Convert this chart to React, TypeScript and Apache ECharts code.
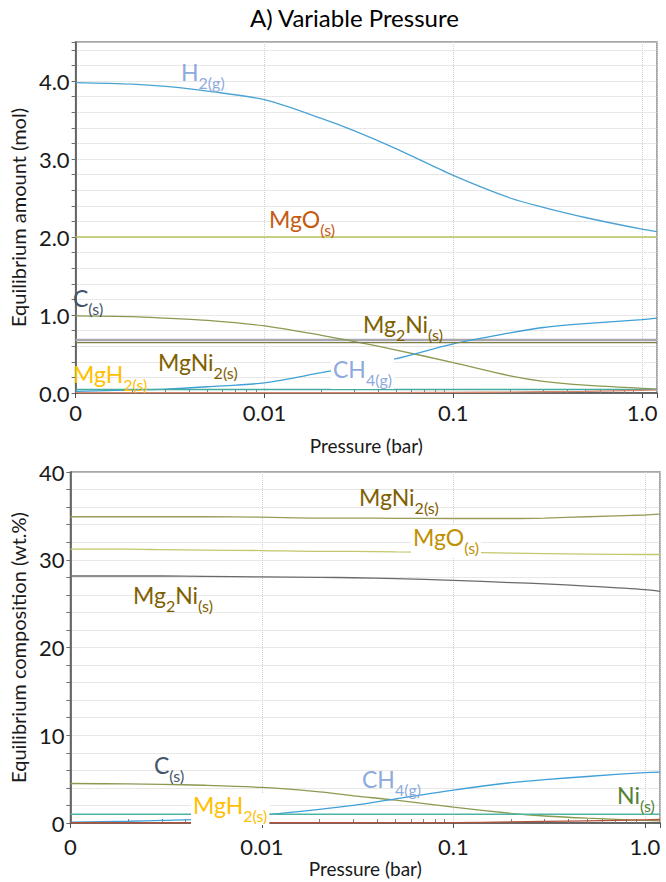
import React, { useEffect, useRef } from 'react';
import * as echarts from 'echarts';

// ---------- data ----------
const pressureBar = [0.001, 0.002, 0.003, 0.005, 0.01, 0.02, 0.03, 0.05, 0.1, 0.2, 0.3, 0.5, 1.0, 1.2];
const xTickValues = [0.001, 0.01, 0.1, 1];
const xTickLabels = ['0', '0.01', '0.1', '1.0'];
const xMinorTicks = [
  0.002, 0.003, 0.004, 0.005, 0.006, 0.007, 0.008, 0.009,
  0.02, 0.03, 0.04, 0.05, 0.06, 0.07, 0.08, 0.09,
  0.2, 0.3, 0.4, 0.5, 0.6, 0.7, 0.8, 0.9,
];

// A) equilibrium amount (mol)
const amountH2 = [3.98, 3.96, 3.93, 3.87, 3.76, 3.52, 3.36, 3.13, 2.79, 2.5, 2.38, 2.25, 2.1, 2.07];
const amountMgO = [2.0, 2.0, 2.0, 2.0, 2.0, 2.0, 2.0, 2.0, 2.0, 2.0, 2.0, 2.0, 2.0, 2.0];
const amountC = [0.99, 0.98, 0.96, 0.93, 0.86, 0.74, 0.66, 0.55, 0.39, 0.22, 0.15, 0.1, 0.06, 0.05];
const amountMg2Ni = [0.68, 0.68, 0.68, 0.68, 0.68, 0.68, 0.68, 0.68, 0.68, 0.68, 0.68, 0.68, 0.68, 0.68];
const amountMgNi2 = [0.645, 0.645, 0.645, 0.645, 0.645, 0.645, 0.645, 0.645, 0.645, 0.645, 0.645, 0.645, 0.645, 0.645];
const amountCH4 = [0.02, 0.04, 0.05, 0.08, 0.13, 0.26, 0.34, 0.44, 0.63, 0.77, 0.84, 0.89, 0.94, 0.96];
const amountMgH2 = [0.045, 0.045, 0.045, 0.045, 0.045, 0.045, 0.045, 0.045, 0.045, 0.045, 0.045, 0.045, 0.045, 0.045];
const amountNi = [0.005, 0.005, 0.005, 0.005, 0.005, 0.005, 0.005, 0.006, 0.008, 0.012, 0.016, 0.022, 0.035, 0.04];

// B) equilibrium composition (wt.%)
const wtMgNi2 = [34.9, 34.9, 34.9, 34.9, 34.85, 34.75, 34.75, 34.72, 34.7, 34.7, 34.75, 34.9, 35.1, 35.2];
const wtMgO = [31.2, 31.2, 31.15, 31.1, 31.05, 30.95, 30.95, 30.9, 30.85, 30.75, 30.7, 30.65, 30.6, 30.6];
const wtMg2Ni = [28.15, 28.15, 28.15, 28.1, 28.05, 28.0, 27.95, 27.85, 27.65, 27.4, 27.25, 27.0, 26.6, 26.4];
const wtC = [4.5, 4.45, 4.4, 4.3, 4.05, 3.55, 3.1, 2.6, 1.8, 1.1, 0.8, 0.55, 0.3, 0.25];
const wtCH4 = [0.1, 0.2, 0.3, 0.45, 0.9, 1.55, 2.0, 2.75, 3.75, 4.6, 4.95, 5.3, 5.75, 5.8];
const wtMgH2 = [1.0, 1.0, 1.0, 1.0, 1.0, 1.0, 1.0, 1.0, 1.0, 1.0, 1.0, 1.0, 1.0, 1.0];
const wtNi = [0.03, 0.03, 0.03, 0.03, 0.03, 0.03, 0.03, 0.04, 0.05, 0.12, 0.18, 0.25, 0.36, 0.4];

const FONT = 'Lato, "Open Sans", sans-serif';
const GRID_COLOR = '#d0d0d0';

function pairs(vals: number[]) {
  return pressureBar.map((p, i) => [p, vals[i]]);
}

function xLabel(v: number) {
  for (let i = 0; i < xTickValues.length; i++) {
    if (Math.abs(Math.log10(v) - Math.log10(xTickValues[i])) < 1e-6) return xTickLabels[i];
  }
  return '';
}

function line(name: string, vals: number[], color: string, idx: number, width = 1.3, z = 2) {
  return {
    name,
    type: 'line',
    xAxisIndex: idx,
    yAxisIndex: idx,
    data: pairs(vals),
    showSymbol: false,
    symbol: 'none',
    smooth: 0.3,
    z,
    lineStyle: { color, width },
    itemStyle: { color },
  };
}

let measureCtx: CanvasRenderingContext2D | null = null;
function measure(text: string, size: number) {
  if (!measureCtx) measureCtx = document.createElement('canvas').getContext('2d');
  measureCtx!.font = `${size}px Lato`;
  return measureCtx!.measureText(text).width;
}

// label made of alternating normal / subscript parts
function label(parts: string[], color: string, x: number, base: number, bg = false) {
  const els: any[] = [];
  let cx = x;
  parts.forEach((t, i) => {
    const isSub = i % 2 === 1;
    const size = isSub ? 16 : 23;
    els.push({
      type: 'text',
      z: 60,
      x: cx,
      y: isSub ? base + 2 : base - 8,
      style: {
        text: t, fill: color, fontSize: size, fontFamily: FONT,
        align: 'left', textAlign: 'left', verticalAlign: 'middle', textVerticalAlign: 'middle',
      },
    });
    cx += measure(t, size);
  });
  if (bg) {
    els.unshift({
      type: 'rect',
      z: 50,
      shape: { x: x - 2, y: base - 19, width: cx - x + 4, height: 31 },
      style: { fill: '#ffffff' },
    });
  }
  return els;
}

function xAxisDef(idx: number, nameGap: number, margin: number) {
  return {
    type: 'log',
    gridIndex: idx,
    logBase: 10,
    min: 0.001,
    max: 1.2,
    position: 'bottom',
    axisLine: { show: true, onZero: false, lineStyle: { color: '#4d4d4d', width: 1.5 } },
    axisTick: { show: true, length: 5, lineStyle: { color: '#4d4d4d' } },
    axisLabel: { formatter: xLabel, fontSize: 22, fontFamily: FONT, color: '#1a1a1a', margin },
    splitLine: { show: true, lineStyle: { type: 'dotted', color: GRID_COLOR, width: 1 } },
    name: 'Pressure (bar)',
    nameLocation: 'middle',
    nameGap,
    nameTextStyle: { fontSize: 19, fontFamily: FONT, color: '#1a1a1a' },
  };
}

function xMinorAxisDef(idx: number) {
  return {
    type: 'log',
    gridIndex: idx,
    logBase: 10,
    min: 0.001,
    max: 1.2,
    position: 'bottom',
    axisLine: { show: false },
    axisLabel: { show: false },
    splitLine: { show: false },
    axisTick: { show: true, inside: true, length: 4, customValues: xMinorTicks, lineStyle: { color: '#7f7f7f' } },
  };
}

function yAxisDef(idx: number, max: number, interval: number, labelEvery: number, decimals: number, name: string, nameGap: number) {
  return {
    type: 'value',
    gridIndex: idx,
    min: 0,
    max,
    interval,
    axisLine: { show: true, lineStyle: { color: '#4d4d4d', width: 1.5 } },
    axisTick: { show: true, length: 4, lineStyle: { color: '#6d6d6d' } },
    axisLabel: {
      fontSize: 22,
      fontFamily: FONT,
      color: '#1a1a1a',
      margin: 6,
      formatter: (v: number) => {
        const k = v / labelEvery;
        return Math.abs(k - Math.round(k)) < 1e-6 ? v.toFixed(decimals) : '';
      },
    },
    splitLine: { show: true, lineStyle: { type: 'dotted', color: GRID_COLOR, width: 1 } },
    name,
    nameLocation: 'middle',
    nameRotate: 90,
    nameGap,
    nameTextStyle: { fontSize: 20, fontFamily: FONT, color: '#1a1a1a' },
  };
}

export default function App() {
  const ref = useRef<HTMLDivElement>(null);

  useEffect(() => {
    if (!ref.current) return;
    const chart = echarts.init(ref.current, null, { renderer: 'svg' });

    const graphics = [
      // top chart labels
      ...label(['H', '2(g)'], '#8faadc', 181, 80),
      ...label(['MgO', '(s)'], '#c55a11', 269, 227),
      ...label(['C', '(s)'], '#44546a', 73, 306),
      ...label(['Mg', '2', 'Ni', '(s)'], '#7f6000', 363, 332),
      ...label(['MgNi', '2(s)'], '#7f6000', 158, 370),
      ...label(['MgH', '2(s)'], '#ffc000', 73, 382),
      ...label(['CH', '4(g)'], '#8faadc', 333, 377, true),
      // bottom chart labels
      ...label(['MgNi', '2(s)'], '#7f6000', 359, 505),
      ...label(['MgO', '(s)'], '#bf9000', 413, 545, true),
      ...label(['Mg', '2', 'Ni', '(s)'], '#7f6000', 133, 603),
      ...label(['C', '(s)'], '#44546a', 154, 773),
      ...label(['MgH', '2(s)'], '#ffc000', 193, 813, true),
      ...label(['CH', '4(g)'], '#8faadc', 362, 787),
      ...label(['Ni', '(s)'], '#548235', 617, 803),
    ];

    chart.setOption({
      animation: false,
      backgroundColor: '#ffffff',
      title: {
        text: 'A) Variable Pressure',
        left: 250,
        top: 5,
        padding: 0,
        textStyle: { fontSize: 24, fontWeight: 'normal', fontFamily: FONT, color: '#000000' },
      },
      grid: [
        { left: 69, top: 42, width: 588, height: 351, show: true, borderColor: '#8c8c8c', borderWidth: 1.5, containLabel: false },
        { left: 68, top: 472, width: 592, height: 351, show: true, borderColor: '#8c8c8c', borderWidth: 1.5, containLabel: false },
      ],
      xAxis: [xAxisDef(0, 43, 8), xAxisDef(1, 36, 12), xMinorAxisDef(0), xMinorAxisDef(1)],
      yAxis: [
        yAxisDef(0, 4.5, 0.2, 1, 1, 'Equilibrium amount (mol)', 38),
        yAxisDef(1, 40, 2, 10, 0, 'Equilibrium composition (wt.%)', 37),
      ],
      series: [
        line('H2(g)', amountH2, '#4aa3d3', 0),
        line('MgO(s)', amountMgO, '#bcc35c', 0),
        line('Mg2Ni(s)', amountMg2Ni, '#a8a8ae', 0, 2.5),
        line('MgNi2(s)', amountMgNi2, '#7f7f4a', 0, 1.2, 3),
        line('C(s)', amountC, '#8a9a50', 0),
        line('CH4(g)', amountCH4, '#3fa0d8', 0),
        line('MgH2(s)', amountMgH2, '#45aaa0', 0),
        line('Ni(s)', amountNi, '#d9866a', 0),

        line('MgNi2(s)', wtMgNi2, '#9a9a5a', 1),
        line('MgO(s)', wtMgO, '#c3c86c', 1),
        line('Mg2Ni(s)', wtMg2Ni, '#6a6a6a', 1),
        line('C(s)', wtC, '#8a9a50', 1),
        line('CH4(g)', wtCH4, '#3fa0d8', 1),
        line('MgH2(s)', wtMgH2, '#4db3a5', 1),
        line('Ni(s)', wtNi, '#b5523b', 1),
      ],
      graphic: { elements: graphics },
    });

    return () => chart.dispose();
  }, []);

  return <div ref={ref} style={{ position: 'absolute', left: 0, top: 0, width: 666, height: 882 }} />;
}
